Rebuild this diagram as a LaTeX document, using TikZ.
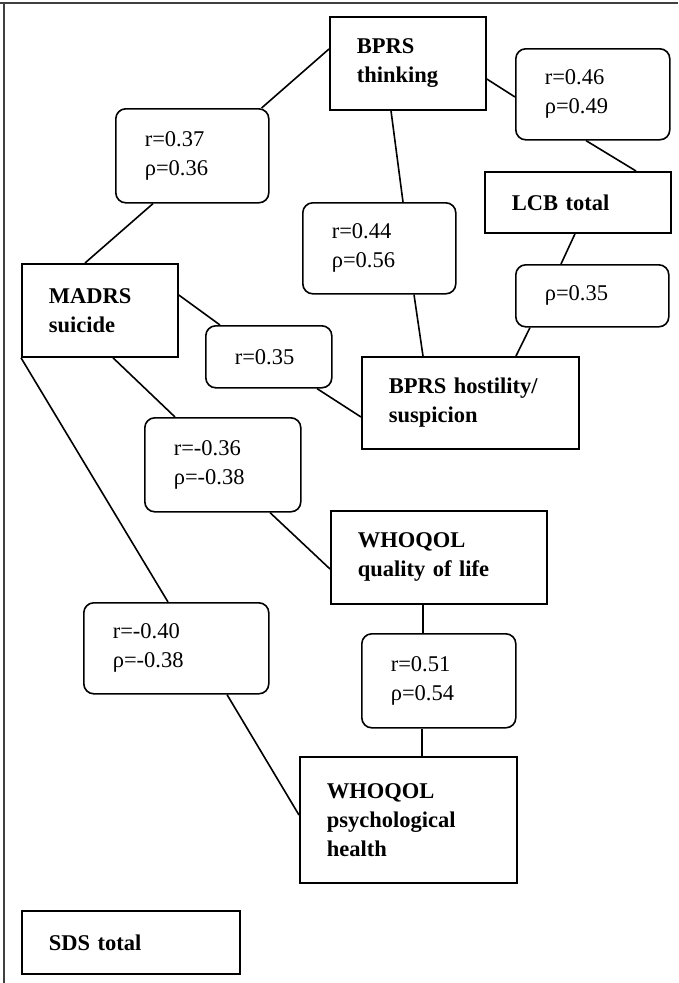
\documentclass[tikz,border=0pt]{standalone}
\usepackage{fontspec}
\setmainfont{Liberation Serif}
\usetikzlibrary{calc}
\begin{document}
\begin{tikzpicture}[x=1pt,y=-1pt,
		varbox/.style={draw, line width=1.8pt, anchor=north west, inner xsep=27pt, inner ysep=0pt, align=left, font=\fontsize{22.5}{29}\selectfont\bfseries},
		corrbox/.style={draw, line width=1.6pt, rounded corners=10pt, anchor=north west, inner xsep=29pt, inner ysep=0pt, align=left, font=\fontsize{22.5}{29}\selectfont},
		link/.style={line width=1.6pt}]
		\useasboundingbox (0,0) rectangle (678,983);
		\draw[line width=1.4pt, black!75] (0,3) -- (678,3);
		\draw[line width=1.4pt, black!75] (4,3) -- (4,983);
	
		% variables
		\node[varbox, text width=102pt, minimum height=93pt] (bt) at (329,16) {BPRS\\thinking};
		\node[varbox, text width=132pt, minimum height=61pt] (lcb) at (484,171) {LCB total};
		\node[varbox, text width=102pt, minimum height=93pt] (mad) at (21,263) {MADRS\\suicide};
		\node[varbox, text width=163pt, minimum height=92pt] (hos) at (361,356) {BPRS hostility/\\suspicion};
		\node[varbox, text width=162pt, minimum height=93pt] (qol) at (330,510) {WHOQOL\\quality of life};
		\node[varbox, text width=163pt, minimum height=126pt] (psy) at (299,756) {WHOQOL\\psychological\\health};
		\node[varbox, text width=164pt, minimum height=63pt] (sds) at (21,910) {SDS total};
	
		% correlations
		\node[corrbox, text width=95pt, minimum height=94pt] (r037) at (115,108) {r=0.37\\ρ=0.36};
		\node[corrbox, text width=96pt, minimum height=91pt] (r046) at (515,48) {r=0.46\\ρ=0.49};
		\node[corrbox, text width=95pt, minimum height=91pt] (r044) at (302,202) {r=0.44\\ρ=0.56};
		\node[corrbox, text width=95pt, minimum height=62pt] (rho035) at (515,264) {ρ=0.35};
		\node[corrbox, text width=68pt, minimum height=62pt] (r035) at (205,325) {r=0.35};
		\node[corrbox, text width=98pt, minimum height=94pt] (r036) at (144,417) {r=-0.36\\ρ=-0.38};
		\node[corrbox, text width=127pt, minimum height=91pt] (r040) at (83,602) {r=-0.40\\ρ=-0.38};
		\node[corrbox, text width=96pt, minimum height=94pt] (r051) at (361,633) {r=0.51\\ρ=0.54};
	
		\draw[link] ($(bt.north west)+(0,33)$) -- ($(r037.north east)+(-8,0)$);
		\draw[link] ($(r037.south west)+(38,0)$) -- ($(mad.north west)+(64,0)$);
		\draw[link] ($(bt.north east)+(0,63)$) -- ($(r046.north west)+(0,49)$);
		\draw[link] ($(r046.south west)+(71,0)$) -- ($(lcb.north west)+(152,0)$);
		\draw[link] ($(bt.south west)+(62,0)$) -- ($(r044.north west)+(101,0)$);
		\draw[link] ($(r044.south west)+(112,0)$) -- ($(hos.north west)+(62,0)$);
		\draw[link] ($(lcb.south west)+(91,0)$) -- ($(rho035.north west)+(46,0)$);
		\draw[link] ($(rho035.south west)+(15,0)$) -- ($(hos.north west)+(155,0)$);
		\draw[link] ($(mad.north east)+(0,32)$) -- ($(r035.north west)+(15,0)$);
		\draw[link] ($(r035.south west)+(112,0)$) -- ($(hos.north west)+(0,61)$);
		\draw[link] ($(mad.south west)+(92,0)$) -- ($(r036.north west)+(31,0)$);
		\draw[link] ($(r036.south west)+(126,0)$) -- ($(qol.north west)+(0,59)$);
		\draw[link] (mad.south west) -- ($(r040.north west)+(85,0)$);
		\draw[link] ($(r040.south west)+(144,0)$) -- ($(psy.north west)+(0,59)$);
		\draw[link] ($(qol.south west)+(93,0)$) -- ($(r051.north west)+(62,0)$);
		\draw[link] ($(r051.south west)+(61,0)$) -- ($(psy.north west)+(123,0)$);
\end{tikzpicture}
\end{document}
